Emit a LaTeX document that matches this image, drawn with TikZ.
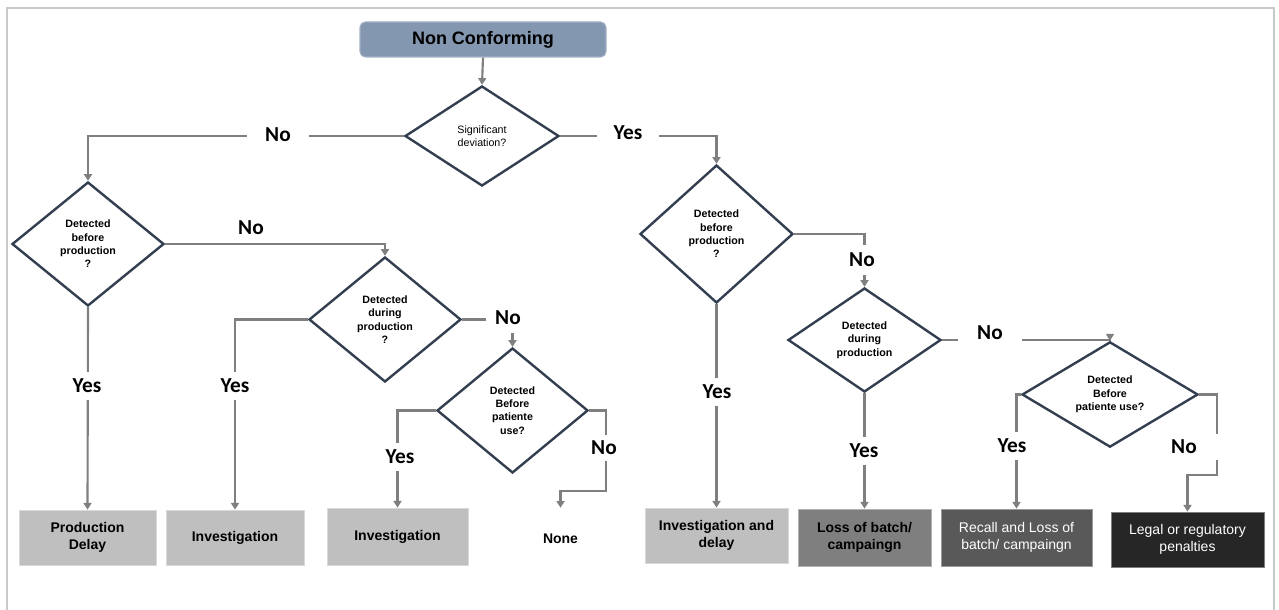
\documentclass[tikz,border=0pt]{standalone}
\usepackage{fontspec}
\setmainfont{Liberation Sans}
\newfontfamily\lblfont{Carlito}
\usetikzlibrary{shapes.geometric,arrows.meta}

\definecolor{titlefill}{HTML}{8497B0}
\definecolor{titleline}{HTML}{A3B0C4}
\definecolor{dnavy}{HTML}{333F50}
\definecolor{conn}{HTML}{7F7F7F}
\definecolor{framec}{HTML}{C9C9C9}
\definecolor{gA}{HTML}{BFBFBF}
\definecolor{gB}{HTML}{7F7F7F}
\definecolor{gC}{HTML}{595959}
\definecolor{gD}{HTML}{262626}

\tikzset{
  decision/.style 2 args={diamond, draw=dnavy, line width=1.8pt, fill=white,
    inner sep=0pt, align=center, minimum width={#1*0.75pt}, minimum height={#2*0.75pt},
    font=\fontsize{8}{10}\selectfont\bfseries},
  outbox/.style 2 args={rectangle, draw=#1!60!white, line width=0.6pt, inner sep=0pt,
    align=center, minimum width={#2*0.75pt}, fill=#1},
  darktext/.style={font=\fontsize{10.5}{12.75}\selectfont\bfseries, text=black},
  lighttext/.style={font=\fontsize{10.5}{12.75}\selectfont, text=white},
  flow/.style={draw=conn, line width=1.6pt, -{Triangle[length=5pt,width=6pt]}},
  plain/.style={draw=conn, line width=1.6pt},
  lbl/.style={font=\lblfont\bfseries\fontsize{16}{19}\selectfont, text=black,
    fill=white, inner sep=0pt},
}

\begin{document}
\begin{tikzpicture}[x=0.75pt,y=-0.75pt]
\useasboundingbox (0,0) rectangle (1279,610);

% outer frame
\draw[framec, line width=1.5pt] (7,612) -- (7,8) -- (1274,8) -- (1274,612);

% start
\node[rectangle, rounded corners=4pt, fill=titlefill, draw=titleline, line width=0.8pt,
  minimum width={246*0.75pt}, minimum height={35*0.75pt},
  font=\fontsize{13.5}{16}\selectfont\bfseries] (start) at (483,39.5) {Non Conforming};

% decisions
\node[decision={154}{100}, font=\fontsize{8}{10}\selectfont] (d0) at (482,136) {Significant\\deviation?};
\node[decision={152}{124}] (d1) at (88,244) {Detected\\before\\production\\?};
\node[decision={152}{125}] (d3) at (385,319.5) {Detected\\during\\production\\?};
\node[decision={151}{125}] (d4) at (512.5,410.5) {Detected\\Before\\patiente\\use?};
\node[decision={153}{138}] (d2) at (716.5,234) {Detected\\before\\production\\?};
\node[decision={153}{104}] (d5) at (864.5,340) {Detected\\during\\production};
\node[decision={176}{95}] (d6) at (1110,394.5) {Detected\\Before\\patiente use?};

% outcomes
\node[outbox={gA}{137}, minimum height={55*0.75pt}, darktext] (pd) at (87.5,537.5) {Production\\Delay};
\node[outbox={gA}{138}, minimum height={55*0.75pt}, darktext] (inv1) at (235,537.5) {Investigation};
\node[outbox={gA}{141}, minimum height={57*0.75pt}, darktext] (inv2) at (397.5,536.5) {Investigation};
\node[rectangle, inner sep=0pt, minimum width={100*0.75pt}, minimum height={62*0.75pt}, darktext] (none) at (560.5,539) {None};
\node[outbox={gA}{143}, minimum height={55*0.75pt}, darktext] (invd) at (716.5,535.5) {Investigation and\\delay};
\node[outbox={gB}{133}, minimum height={57*0.75pt}, darktext] (loss) at (864.5,537.5) {Loss of batch/\\campaingn};
\node[outbox={gC}{151}, minimum height={57*0.75pt}, lighttext] (recall) at (1016.5,537.5) {Recall and Loss of\\batch/ campaingn};
\node[outbox={gD}{153}, minimum height={55*0.75pt}, lighttext] (legal) at (1187.5,539.5) {Legal or regulatory\\penalties};

% bend points
\coordinate (c4) at (606,491);
\coordinate (c6) at (1217,475);

% connectors
\draw[flow] (start.south) -- (d0.north);
\draw[flow] (d0.west) -| (d1.north);
\draw[flow] (d0.east) -| (d2.north);
\draw[flow] (d1.east) -| (d3.north);
\draw[flow] (d1.south) -- (pd.north);
\draw[flow] (d3.west) -| (inv1.north);
\draw[flow] (d3.east) -| (d4.north);
\draw[flow] (d4.west) -| (inv2.north);
\draw[flow] (d4.east) -| (c4) -| (none.north);
\draw[flow] (d2.south) -- (invd.north);
\draw[flow] (d2.east) -| (d5.north);
\draw[flow] (d5.south) -- (loss.north);
\draw[flow] (d5.east) -| (d6.north);
\draw[flow] (d6.west) -| (recall.north);
\draw[flow] (d6.east) -| (c6) -| (legal.north);

% branch labels
\node[lbl, minimum width={62*0.75pt}, minimum height={20*0.75pt}] (n0) at (278,135) {No};
\node[lbl, minimum width={62*0.75pt}, minimum height={20*0.75pt}] (y0) at (628,133) {Yes};
\node[lbl, fill=none] (n1) at (251,228) {No};
\node[lbl, minimum height={28*0.75pt}] (y1) at (87,386) {Yes};
\node[lbl, minimum height={28*0.75pt}] (y3) at (235,386) {Yes};
\node[lbl, minimum width={44*0.75pt}, minimum height={30*0.75pt}] (n3) at (508,318) {No};
\node[lbl, minimum height={28*0.75pt}] (y4) at (400,457) {Yes};
\node[lbl, minimum height={26*0.75pt}] (n4) at (604,448) {No};
\node[lbl, minimum height={30*0.75pt}] (n2) at (862,260) {No};
\node[lbl, minimum height={28*0.75pt}] (y2) at (717,392) {Yes};
\node[lbl, minimum width={64*0.75pt}, minimum height={24*0.75pt}] (n5) at (990,333) {No};
\node[lbl, minimum height={28*0.75pt}] (y5) at (864,451) {Yes};
\node[lbl, minimum height={28*0.75pt}] (y6) at (1012,446) {Yes};
\node[lbl, minimum width={76*0.75pt}, minimum height={26*0.75pt}] (n6) at (1184,447) {No};
\end{tikzpicture}
\end{document}
